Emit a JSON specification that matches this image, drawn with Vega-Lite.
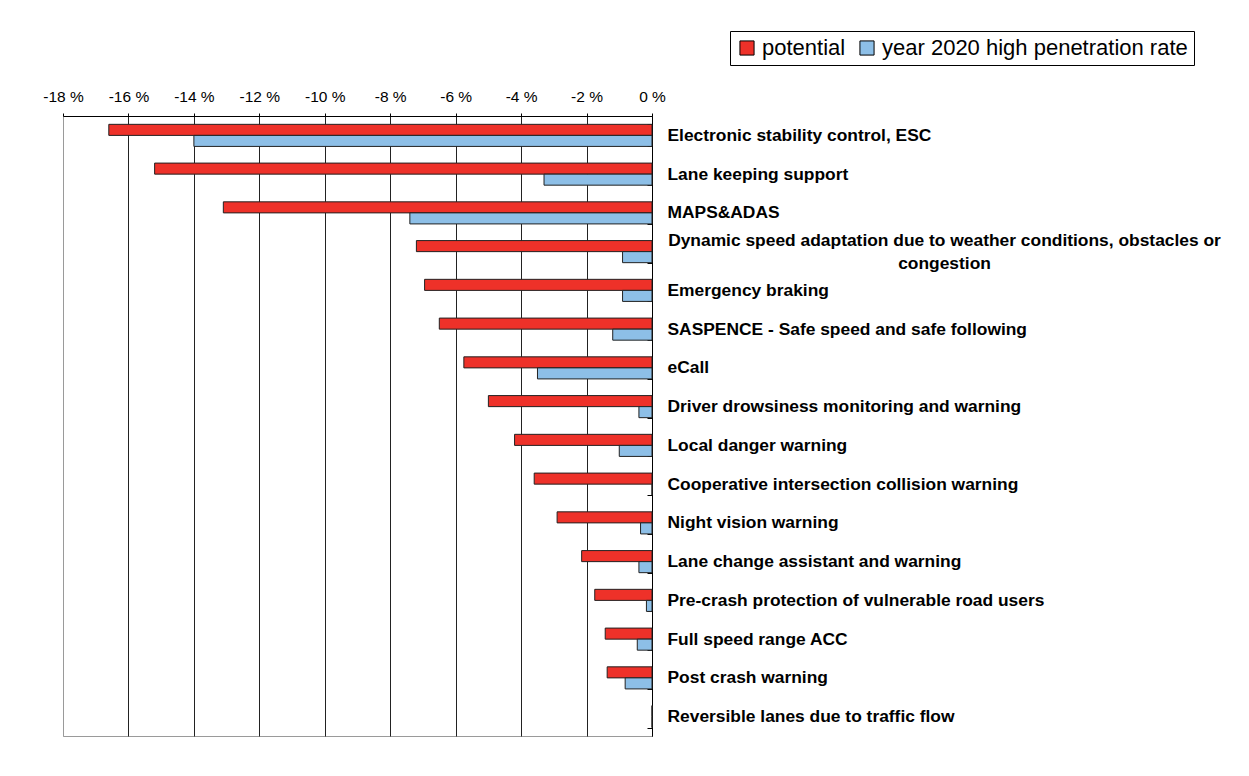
{
  "$schema": "https://vega.github.io/schema/vega-lite/v6.json",
  "width": 589,
  "height": 620,
  "autosize": {"type": "none"},
  "padding": {"left": 63, "top": 116, "right": 597, "bottom": 40},
  "background": "white",
  "config": {
    "font": "Liberation Sans",
    "view": {"stroke": "#9a9a9a", "strokeWidth": 1}
  },
  "data": {
    "values": [
      {"system": "Electronic stability control, ESC", "series": "potential", "value": -16.6},
      {"system": "Electronic stability control, ESC", "series": "year 2020 high penetration rate", "value": -14.0},
      {"system": "Lane keeping support", "series": "potential", "value": -15.2},
      {"system": "Lane keeping support", "series": "year 2020 high penetration rate", "value": -3.3},
      {"system": "MAPS&ADAS", "series": "potential", "value": -13.1},
      {"system": "MAPS&ADAS", "series": "year 2020 high penetration rate", "value": -7.4},
      {"system": "Dynamic speed adaptation due to weather conditions, obstacles or congestion", "series": "potential", "value": -7.2},
      {"system": "Dynamic speed adaptation due to weather conditions, obstacles or congestion", "series": "year 2020 high penetration rate", "value": -0.9},
      {"system": "Emergency braking", "series": "potential", "value": -6.95},
      {"system": "Emergency braking", "series": "year 2020 high penetration rate", "value": -0.9},
      {"system": "SASPENCE - Safe speed and safe following", "series": "potential", "value": -6.5},
      {"system": "SASPENCE - Safe speed and safe following", "series": "year 2020 high penetration rate", "value": -1.2},
      {"system": "eCall", "series": "potential", "value": -5.75},
      {"system": "eCall", "series": "year 2020 high penetration rate", "value": -3.5},
      {"system": "Driver drowsiness monitoring and warning", "series": "potential", "value": -5.0},
      {"system": "Driver drowsiness monitoring and warning", "series": "year 2020 high penetration rate", "value": -0.4},
      {"system": "Local danger warning", "series": "potential", "value": -4.2},
      {"system": "Local danger warning", "series": "year 2020 high penetration rate", "value": -1.0},
      {"system": "Cooperative intersection collision warning", "series": "potential", "value": -3.6},
      {"system": "Cooperative intersection collision warning", "series": "year 2020 high penetration rate", "value": 0},
      {"system": "Night vision warning", "series": "potential", "value": -2.9},
      {"system": "Night vision warning", "series": "year 2020 high penetration rate", "value": -0.35},
      {"system": "Lane change assistant and warning", "series": "potential", "value": -2.15},
      {"system": "Lane change assistant and warning", "series": "year 2020 high penetration rate", "value": -0.4},
      {"system": "Pre-crash protection of vulnerable road users", "series": "potential", "value": -1.75},
      {"system": "Pre-crash protection of vulnerable road users", "series": "year 2020 high penetration rate", "value": -0.17},
      {"system": "Full speed range ACC", "series": "potential", "value": -1.43},
      {"system": "Full speed range ACC", "series": "year 2020 high penetration rate", "value": -0.45},
      {"system": "Post crash warning", "series": "potential", "value": -1.37},
      {"system": "Post crash warning", "series": "year 2020 high penetration rate", "value": -0.82},
      {"system": "Reversible lanes due to traffic flow", "series": "potential", "value": 0},
      {"system": "Reversible lanes due to traffic flow", "series": "year 2020 high penetration rate", "value": 0}
    ]
  },
  "mark": {"type": "bar", "stroke": "#222222", "strokeWidth": 1},
  "encoding": {
    "x": {
      "field": "value",
      "type": "quantitative",
      "stack": null,
      "scale": {"domain": [-18, 0], "nice": false},
      "axis": {
        "orient": "top",
        "title": null,
        "values": [-18, -16, -14, -12, -10, -8, -6, -4, -2, 0],
        "labelExpr": "datum.value + ' %'",
        "labelFlush": false,
        "labelFontSize": 15.5,
        "labelColor": "#000000",
        "labelPadding": 9,
        "tickSize": 3,
        "tickColor": "#000000",
        "domainColor": "#000000",
        "grid": true,
        "gridColor": {"condition": {"test": "datum.value === -18", "value": "#9a9a9a"}, "value": "#222222"},
        "gridOpacity": 1,
        "gridWidth": 1
      }
    },
    "y": {
      "field": "system",
      "type": "nominal",
      "sort": null,
      "scale": {"paddingInner": 0.43, "paddingOuter": 0.215},
      "axis": {
        "orient": "right",
        "title": null,
        "tickBand": "extent",
        "tickSize": -5,
        "tickColor": "#000000",
        "domainColor": "#000000",
        "labelFontSize": 17.4,
        "labelFontWeight": "bold",
        "labelColor": "#000000",
        "labelLimit": 700,
        "labelLineHeight": 23,
        "labelExpr": "datum.value === 'Dynamic speed adaptation due to weather conditions, obstacles or congestion' ? ['Dynamic speed adaptation due to weather conditions, obstacles or', 'congestion'] : datum.label",
        "labelAlign": {"condition": {"test": "datum.value === 'Dynamic speed adaptation due to weather conditions, obstacles or congestion'", "value": "center"}, "value": "left"},
        "labelPadding": {"condition": {"test": "datum.value === 'Dynamic speed adaptation due to weather conditions, obstacles or congestion'", "value": 297}, "value": 20},
        "labelOffset": {"condition": {"test": "datum.value === 'Dynamic speed adaptation due to weather conditions, obstacles or congestion'", "value": -11}, "value": 0}
      }
    },
    "yOffset": {
      "field": "series",
      "type": "nominal",
      "sort": ["potential", "year 2020 high penetration rate"]
    },
    "color": {
      "field": "series",
      "type": "nominal",
      "scale": {"domain": ["potential", "year 2020 high penetration rate"], "range": ["#EE3129", "#8DBFE7"]},
      "legend": {
        "title": null,
        "orient": "none",
        "legendX": 667,
        "legendY": -85,
        "direction": "horizontal",
        "symbolType": "square",
        "symbolSize": 200,
        "symbolStrokeColor": "#000000",
        "symbolStrokeWidth": 1,
        "labelFontSize": 22,
        "labelColor": "#000000",
        "labelLimit": 400,
        "strokeColor": "#000000",
        "padding": 6
      }
    }
  }
}
